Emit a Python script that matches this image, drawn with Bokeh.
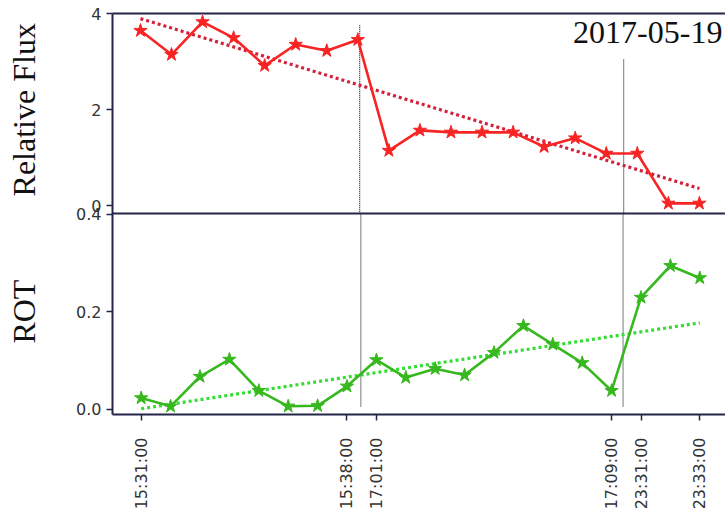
import math
from bokeh.plotting import figure
from bokeh.layouts import row
from bokeh.models import Range1d, FixedTicker, LinearAxis, Label, Span
from bokeh.core.properties import value
from bokeh.embed import file_html
from bokeh.resources import INLINE

# ---- data ----
flux_x = list(range(19))
flux = [3.65, 3.15, 3.83, 3.50, 2.92, 3.36, 3.23, 3.46, 1.15, 1.57,
        1.53, 1.53, 1.53, 1.23, 1.41, 1.09, 1.09, 0.05, 0.05]
flux_trend_x = [0, 18]
flux_trend = [3.90, 0.36]
flux_ticks = [0, 2, 4]
flux_tick_labels = ["0", "2", "4"]

rot_x = list(range(20))
rot = [0.023, 0.006, 0.067, 0.102, 0.038, 0.006, 0.007, 0.047, 0.101, 0.065,
       0.083, 0.070, 0.116, 0.171, 0.133, 0.095, 0.038, 0.229, 0.294, 0.269]
rot_trend_x = [0, 19]
rot_trend = [0.001, 0.177]
rot_ticks = [0, 0.2, 0.4]
rot_tick_labels = ["0.0", "0.2", "0.4"]

tick_pos = [0, 7, 8, 16, 17, 19]
tick_labels = ["15:31:00", "15:38:00", "17:01:00", "17:09:00", "23:31:00", "23:33:00"]

# event markers (vertical dotted lines), in each panel's index units
flux_events_x = [7.06, 15.56]
flux_events_top = [3.76, 3.05]
rot_events_x = [7.47, 16.39]
rot_events_bottom = [0.0055, 0.0035]

title_text = "2017-05-19"
flux_label = "Relative Flux"
rot_label = "ROT"

RED = "#f82424"
RED_TREND = "#d4203a"
GREEN = "#36b81e"
GREEN_TREND = "#33dd33"
NAVY = "#24244a"
TICKC = "#333333"
EVENT = "#222222"

# ranges: one frame holds both panels
rot_xr = Range1d(-0.976, 19.874)
rot_yr = Range1d(-0.01078, 0.8108)
flux_xr = Range1d(-0.90, 18.84)
flux_yr = Range1d(-4.3495, 4.0062)
ROT_TOP = 0.401       # panel boundary in ROT units
FLUX_BOTTOM = -0.161  # panel boundary in flux units

def flux_to_rot(v):
    f = (v - flux_yr.start) / (flux_yr.end - flux_yr.start)
    return rot_yr.start + f * (rot_yr.end - rot_yr.start)

# ---- side strip holding the two y-axis titles ----
side = figure(width=70, height=512, output_backend="svg", toolbar_location=None,
              x_range=Range1d(0, 70), y_range=rot_yr,
              x_axis_location=None, y_axis_location=None,
              min_border_left=0, min_border_right=0, min_border_top=13,
              min_border_bottom=95)
side.extra_y_ranges = {"fy": flux_yr}
side.outline_line_color = None
side.xgrid.visible = False
side.ygrid.visible = False
side.text(x=[23], y=[2.0], text=[flux_label], angle=math.pi / 2,
          text_align="center", text_baseline="middle",
          text_font=value("Liberation Serif"), text_font_size="32px",
          text_color="#111111", y_range_name="fy")
side.text(x=[23], y=[0.2], text=[rot_label], angle=math.pi / 2,
          text_align="center", text_baseline="middle",
          text_font=value("Liberation Serif"), text_font_size="32px",
          text_color="#111111")

# ---- main plot ----
p = figure(width=655, height=512, output_backend="svg", toolbar_location=None,
           x_range=rot_xr, y_range=rot_yr,
           min_border_left=42, min_border_right=0, min_border_top=13,
           min_border_bottom=95)
p.extra_x_ranges = {"fx": flux_xr}
p.extra_y_ranges = {"fy": flux_yr}
p.outline_line_color = None
p.xgrid.visible = False
p.ygrid.visible = False

ya = p.yaxis[0]
lt = rot_ticks + [flux_to_rot(v) for v in flux_ticks]
ll = rot_tick_labels + flux_tick_labels
ya.ticker = FixedTicker(ticks=lt)
ya.major_label_overrides = {t: l for t, l in zip(lt, ll)}
ya.major_label_text_font = "DejaVu Sans"
ya.major_label_text_font_size = "16px"
ya.major_label_text_color = TICKC
ya.major_label_standoff = 5
ya.major_tick_out = 6
ya.major_tick_in = 0
ya.minor_tick_out = 0
ya.minor_tick_in = 0
ya.major_tick_line_color = NAVY
ya.major_tick_line_width = 1.5
ya.axis_line_color = NAVY
ya.axis_line_width = 2

xa = p.xaxis[0]
xa.ticker = FixedTicker(ticks=tick_pos)
xa.major_label_overrides = {t: l for t, l in zip(tick_pos, tick_labels)}
xa.major_label_orientation = math.pi / 2
xa.major_label_text_font = "DejaVu Sans"
xa.major_label_text_font_size = "16px"
xa.major_label_text_color = TICKC
xa.major_label_standoff = 17
xa.major_tick_out = 6
xa.major_tick_in = 0
xa.minor_tick_out = 0
xa.minor_tick_in = 0
xa.major_tick_line_color = NAVY
xa.major_tick_line_width = 1.5
xa.axis_line_color = NAVY
xa.axis_line_width = 2

top_border = LinearAxis(ticker=FixedTicker(ticks=[]), major_tick_out=0, major_tick_in=0,
                        minor_tick_out=0, minor_tick_in=0, major_label_standoff=0,
                        major_label_text_font_size="0px", axis_line_color=NAVY,
                        axis_line_width=2)
p.add_layout(top_border, "above")
p.add_layout(Span(location=ROT_TOP, dimension="width", line_color=NAVY, line_width=2))

# top panel (flux)
for ex, et in zip(flux_events_x, flux_events_top):
    p.segment(x0=ex, y0=et, x1=ex, y1=FLUX_BOTTOM, line_color=EVENT, line_width=1.2,
              line_dash="1 1", x_range_name="fx", y_range_name="fy")
p.line(flux_trend_x, flux_trend, line_color=RED_TREND, line_width=3.2, line_dash="3 3",
       x_range_name="fx", y_range_name="fy")
p.line(flux_x, flux, line_color=RED, line_width=2.6, x_range_name="fx", y_range_name="fy")
p.scatter(flux_x, flux, marker="star", size=14, fill_color=RED, line_color=RED,
          x_range_name="fx", y_range_name="fy")

p.add_layout(Label(x=18.74, y=3.62, text=title_text, text_align="right",
                   text_baseline="alphabetic", text_font="Liberation Serif",
                   text_font_size="32px", text_color="#111111",
                   x_range_name="fx", y_range_name="fy"))

# bottom panel (ROT)
for ex, eb in zip(rot_events_x, rot_events_bottom):
    p.segment(x0=ex, y0=ROT_TOP, x1=ex, y1=eb, line_color=EVENT, line_width=1.2,
              line_dash="1 1")
p.line(rot_trend_x, rot_trend, line_color=GREEN_TREND, line_width=3.2, line_dash="3 3")
p.line(rot_x, rot, line_color=GREEN, line_width=2.6)
p.scatter(rot_x, rot, marker="star", size=14, fill_color=GREEN, line_color=GREEN)

layout = row(side, p, spacing=0)
open("out.html", "w").write(file_html(layout, INLINE))
